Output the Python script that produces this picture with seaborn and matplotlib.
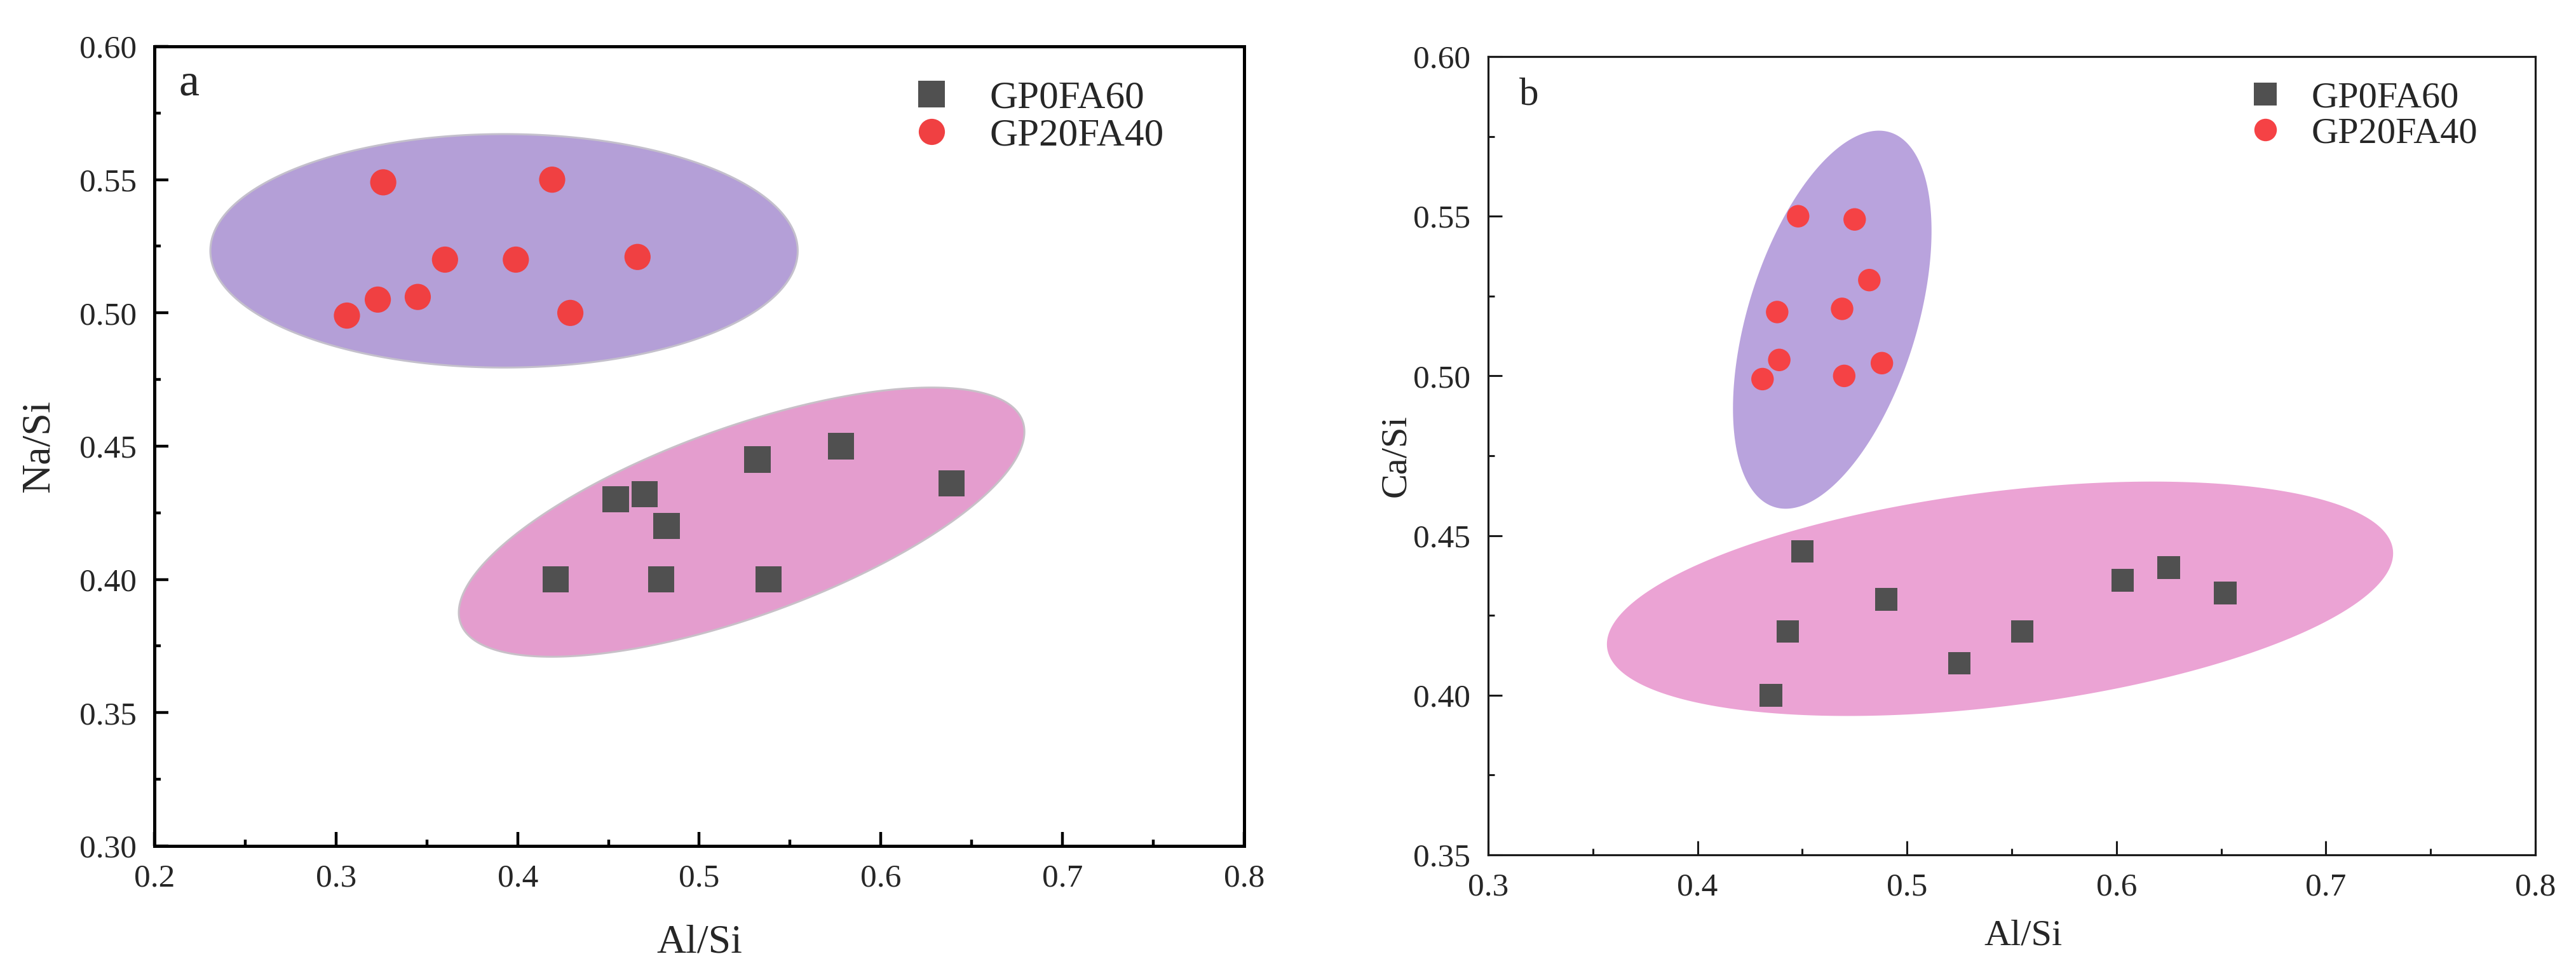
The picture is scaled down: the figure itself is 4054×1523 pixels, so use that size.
import numpy as np
import pandas as pd
import matplotlib
matplotlib.use("Agg")
import matplotlib.pyplot as plt
from matplotlib.ticker import MultipleLocator, FormatStrFormatter
import seaborn as sns

sns.set_style("white")
plt.rcParams["font.family"] = ["Liberation Serif", "DejaVu Serif"]

groups = ["GP0FA60", "GP20FA40"]

# Panel a: Na/Si vs Al/Si
a_gp0_x = [0.421, 0.454, 0.470, 0.482, 0.479, 0.532, 0.538, 0.578, 0.639]
a_gp0_y = [0.400, 0.430, 0.432, 0.420, 0.400, 0.445, 0.400, 0.450, 0.436]
a_gp20_x = [0.326, 0.419, 0.360, 0.399, 0.466, 0.323, 0.345, 0.306, 0.429]
a_gp20_y = [0.549, 0.550, 0.520, 0.520, 0.521, 0.505, 0.506, 0.499, 0.500]

# Panel b: Ca/Si vs Al/Si
b_gp0_x = [0.450, 0.490, 0.443, 0.555, 0.525, 0.435, 0.603, 0.625, 0.652]
b_gp0_y = [0.445, 0.430, 0.420, 0.420, 0.410, 0.400, 0.436, 0.440, 0.432]
b_gp20_x = [0.448, 0.475, 0.482, 0.438, 0.469, 0.439, 0.488, 0.431, 0.470]
b_gp20_y = [0.550, 0.549, 0.530, 0.520, 0.521, 0.505, 0.504, 0.499, 0.500]

# Shaded group ellipses: (cx, cy, half-width in x, half-height in y, phase deg)
a_ell_gp20 = [0.3925, 0.5233, 0.1617, 0.0438, 90.0]
a_ell_gp0 = [0.5233, 0.4215, 0.1557, 0.0505, 47.8]
b_ell_gp20 = [0.4643, 0.5176, 0.0474, 0.0592, 62.0]
b_ell_gp0 = [0.5444, 0.4302, 0.1877, 0.0367, 67.2]

a_xticks = [0.2, 0.3, 0.4, 0.5, 0.6, 0.7, 0.8]
a_yticks = [0.30, 0.35, 0.40, 0.45, 0.50, 0.55, 0.60]
b_xticks = [0.3, 0.4, 0.5, 0.6, 0.7, 0.8]
b_yticks = [0.35, 0.40, 0.45, 0.50, 0.55, 0.60]

DPI = 100
fig = plt.figure(figsize=(40.54, 15.23), dpi=DPI)
axA = fig.add_axes([0.05994, 0.12607, 0.42304, 0.82600])
axB = fig.add_axes([0.57770, 0.11687, 0.40651, 0.82469])


def ellipse(ax, p, face, edge, lw):
    cx, cy, A, B, phi = p
    t = np.linspace(0, 2 * np.pi, 400)
    xs = cx + A * np.cos(t)
    ys = cy + B * np.cos(t - np.deg2rad(phi))
    ax.fill(xs, ys, facecolor=face, edgecolor=edge, linewidth=lw, zorder=1)


def frame(gp0x, gp0y, gp20x, gp20y):
    return pd.DataFrame({
        "x": gp0x + gp20x,
        "y": gp0y + gp20y,
        "group": [groups[0]] * len(gp0x) + [groups[1]] * len(gp20x),
    })


def style_axes(ax, xt, yt, xlab, ylab, spine_w, spine_c, tick_w, fs):
    ax.set_xlim(xt[0], xt[-1])
    ax.set_ylim(yt[0], yt[-1])
    ax.set_xticks(xt)
    ax.set_yticks(yt)
    ax.xaxis.set_minor_locator(MultipleLocator(0.05))
    ax.yaxis.set_minor_locator(MultipleLocator(0.025))
    ax.xaxis.set_major_formatter(FormatStrFormatter("%.1f"))
    ax.yaxis.set_major_formatter(FormatStrFormatter("%.2f"))
    ax.tick_params(which="major", direction="in", length=16, width=tick_w,
                   color=spine_c, labelsize=fs, pad=20,
                   bottom=True, left=True, top=False, right=False)
    ax.tick_params(which="minor", direction="in", length=7.5, width=tick_w,
                   color=spine_c, bottom=True, left=True, top=False, right=False)
    for s in ax.spines.values():
        s.set_visible(True)
        s.set_linewidth(spine_w)
        s.set_color(spine_c)
    ax.grid(False)


# ---- Panel a ----
ellipse(axA, a_ell_gp20, "#b49fd7", "#c4c0cc", 2.2)
ellipse(axA, a_ell_gp0, "#e49dce", "#c8c0c8", 2.2)
dfA = frame(a_gp0_x, a_gp0_y, a_gp20_x, a_gp20_y)
sns.scatterplot(data=dfA, x="x", y="y", hue="group", style="group",
                hue_order=groups, style_order=groups,
                palette={"GP0FA60": "#505050", "GP20FA40": "#f04042"},
                markers={"GP0FA60": "s", "GP20FA40": "o"},
                s=880, linewidth=0, ax=axA, zorder=3)
style_axes(axA, a_xticks, a_yticks, "Al/Si", "Na/Si", 3.6, "black", 3.2, 37)
axA.set_xlabel("Al/Si", fontsize=46)
axA.set_ylabel("Na/Si", fontsize=46)
axA.xaxis.set_label_coords(0.5, -0.098)
axA.yaxis.set_label_coords(-0.089, 0.5)
h, l = axA.get_legend_handles_labels()
axA.legend(h, l, loc="upper left", bbox_to_anchor=(0.6953, 0.957),
           frameon=False, fontsize=44, handlelength=1.0, handletextpad=1.0,
           labelspacing=0.05, borderpad=0, borderaxespad=0)
axA.text(0.0227, 0.9388, "a", transform=axA.transAxes, fontsize=52,
         va="baseline", ha="left")

# ---- Panel b ----
ellipse(axB, b_ell_gp20, "#b9a3dd", "none", 0)
ellipse(axB, b_ell_gp0, "#eba3d4", "none", 0)
dfB = frame(b_gp0_x, b_gp0_y, b_gp20_x, b_gp20_y)
sns.scatterplot(data=dfB, x="x", y="y", hue="group", style="group",
                hue_order=groups, style_order=groups,
                palette={"GP0FA60": "#505050", "GP20FA40": "#f54245"},
                markers={"GP0FA60": "s", "GP20FA40": "o"},
                s=650, linewidth=0, ax=axB, zorder=3)
style_axes(axB, b_xticks, b_yticks, "Al/Si", "Ca/Si", 2.3, "#1a1a1a", 2.2, 37)
axB.set_xlabel("Al/Si", fontsize=42)
axB.set_ylabel("Ca/Si", fontsize=42)
axB.xaxis.set_label_coords(0.511, -0.081)
axB.yaxis.set_label_coords(-0.072, 0.5)
h, l = axB.get_legend_handles_labels()
axB.legend(h, l, loc="upper left", bbox_to_anchor=(0.7245, 0.969),
           frameon=False, fontsize=42, handlelength=1.0, handletextpad=0.75,
           labelspacing=0.05, borderpad=0, borderaxespad=0)
axB.text(0.0297, 0.9395, "b", transform=axB.transAxes, fontsize=44,
         va="baseline", ha="left")

fig.savefig("out.png", dpi=DPI, facecolor="white")
